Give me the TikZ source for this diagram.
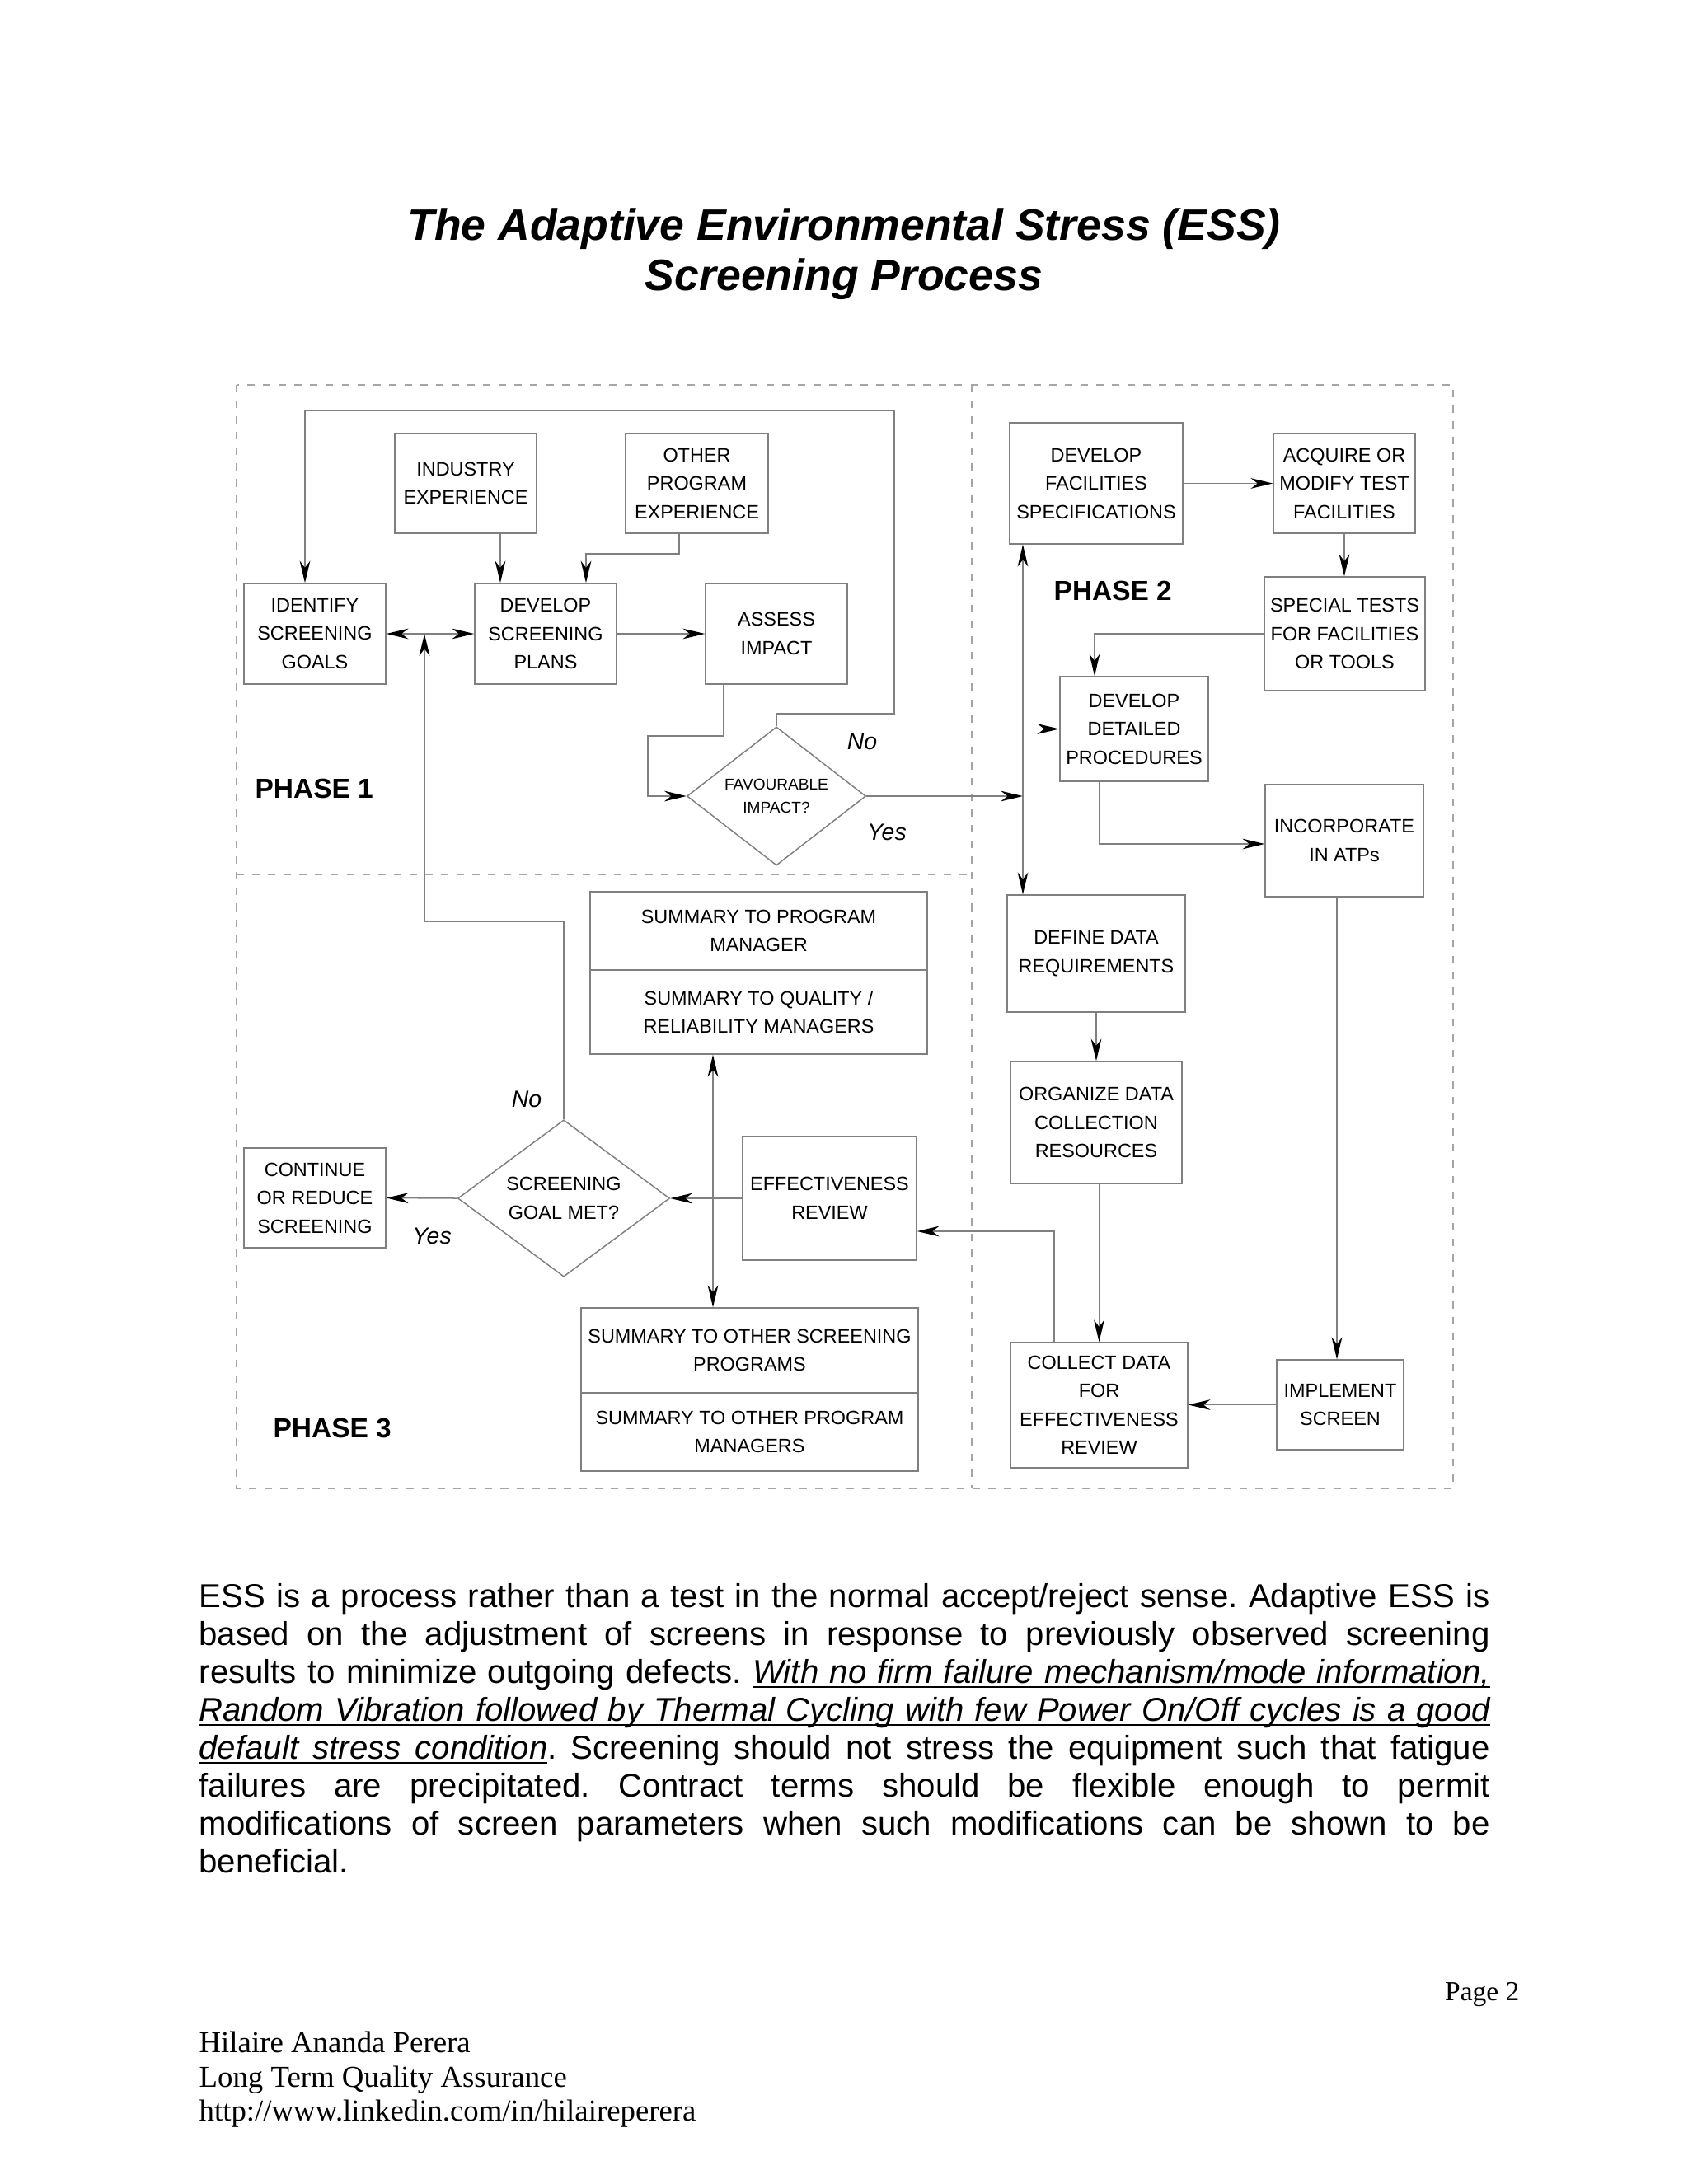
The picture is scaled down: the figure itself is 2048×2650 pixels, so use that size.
\documentclass[tikz,border=0pt]{standalone}
\usepackage{fontspec}
\setmainfont{Liberation Sans}
\newfontfamily\serifft{Liberation Serif}
\usetikzlibrary{arrows.meta,shapes.geometric}
\newdimen\pxu \pxu=0.298828pt
\definecolor{linegray}{RGB}{128,128,128}
\definecolor{framegray}{RGB}{165,165,165}
\newcommand\dgmfont{\fontsize{7pt}{10.3pt}\selectfont}
% home-made stretchable underline
\newcommand\ulw[1]{\setbox0\hbox{#1}\rlap{\vrule height -1.3pt depth 1.9pt width \wd0}\box0}
\def\ulloop#1 #2\ulend{\ulw{#1}\ifx\relax#2\relax\else\leaders\hrule height -1.3pt depth 1.9pt\hskip\fontdimen2\font plus\fontdimen3\font minus\fontdimen4\font\ulloop#2\ulend\fi}
\frenchspacing
\begin{document}
\begin{tikzpicture}[x=0.298828pt,y=-0.298828pt,
  >={Stealth[length=8pt,width=3.8pt,inset=2.5pt,color=black]},
  conn/.style={draw=linegray,line width=0.45pt},
  box/.style={draw=linegray,line width=0.45pt,inner sep=0pt,align=center,font=\dgmfont},
  decision/.style={diamond,draw=linegray,line width=0.45pt,inner sep=0pt,align=center,font=\dgmfont},
  lbl/.style={font=\fontsize{8.5pt}{10pt}\selectfont\itshape,inner sep=0pt},
  phase/.style={font=\fontsize{10pt}{12pt}\selectfont\bfseries,anchor=west,inner sep=0pt},
  frame/.style={draw=framegray,line width=0.4pt,dash pattern=on 2.7pt off 3pt}]
\useasboundingbox (0,0) rectangle (2048,2650);

% title
\node[font=\fontsize{16pt}{18pt}\selectfont\bfseries\itshape,anchor=base,inner sep=0pt] (t1) at (1024,291) {The Adaptive Environmental Stress (ESS)};
\node[font=\fontsize{16pt}{18pt}\selectfont\bfseries\itshape,anchor=base,inner sep=0pt] (t2) at (1024,352) {Screening Process};

% frame
\draw[frame] (287,467) rectangle (1763,1806);
\draw[frame] (1179,467) -- (1179,1806);
\draw[frame] (287,1061) -- (1179,1061);

% phase 1
\node[box,minimum width=172\pxu,minimum height=122\pxu] (ident) at (382,769) {IDENTIFY\\SCREENING\\GOALS};
\node[box,minimum width=172\pxu,minimum height=121\pxu] (indus) at (565,586.5) {INDUSTRY\\EXPERIENCE};
\node[box,minimum width=173\pxu,minimum height=121\pxu] (other) at (845.5,586.5) {OTHER\\PROGRAM\\EXPERIENCE};
\node[box,minimum width=172\pxu,minimum height=122\pxu] (devplan) at (662,769) {DEVELOP\\SCREENING\\PLANS};
\node[box,minimum width=172\pxu,minimum height=122\pxu] (assess) at (942,769) {ASSESS\\IMPACT};
\node[decision,minimum width=217\pxu,minimum height=152\pxu,font=\fontsize{5.7pt}{8.6pt}\selectfont] (fav) at (942,966) {FAVOURABLE\\IMPACT?};
\node[phase] (ph1) at (309,957) {PHASE 1};
\node[lbl] (no1) at (1046,900) {No};
\node[lbl] (yes1) at (1076,1010) {Yes};

% phase 2
\node[box,minimum width=210\pxu,minimum height=147\pxu] (facil) at (1330,586.5) {DEVELOP\\FACILITIES\\SPECIFICATIONS};
\node[box,minimum width=172\pxu,minimum height=121\pxu] (acquire) at (1631,586.5) {ACQUIRE OR\\MODIFY TEST\\FACILITIES};
\node[box,minimum width=195\pxu,minimum height=138\pxu] (special) at (1631.5,769) {SPECIAL TESTS\\FOR FACILITIES\\OR TOOLS};
\node[box,minimum width=180\pxu,minimum height=127\pxu] (detailed) at (1376,884.5) {DEVELOP\\DETAILED\\PROCEDURES};
\node[box,minimum width=192\pxu,minimum height=136\pxu] (incorp) at (1631,1020) {INCORPORATE\\IN ATPs};
\node[box,minimum width=216\pxu,minimum height=142\pxu] (define) at (1330,1157) {DEFINE DATA\\REQUIREMENTS};
\node[box,minimum width=208\pxu,minimum height=148\pxu] (organize) at (1330,1362) {ORGANIZE DATA\\COLLECTION\\RESOURCES};
\node[box,minimum width=215\pxu,minimum height=152\pxu] (collect) at (1333.5,1705) {COLLECT DATA\\FOR\\EFFECTIVENESS\\REVIEW};
\node[box,minimum width=154\pxu,minimum height=109\pxu] (implement) at (1626,1704.5) {IMPLEMENT\\SCREEN};
\node[phase] (ph2) at (1278,717) {PHASE 2};

% phase 3
\node[box,minimum width=409\pxu,minimum height=95\pxu] (sumA) at (920.5,1129.5) {SUMMARY TO PROGRAM\\MANAGER};
\node[box,minimum width=409\pxu,minimum height=102\pxu] (sumB) at (920.5,1228) {SUMMARY TO QUALITY /\\RELIABILITY MANAGERS};
\node[decision,minimum width=257\pxu,minimum height=166\pxu] (goal) at (684,1454) {SCREENING\\GOAL MET?};
\node[box,minimum width=172\pxu,minimum height=121\pxu] (cont) at (382,1453.5) {CONTINUE\\OR REDUCE\\SCREENING};
\node[box,minimum width=211\pxu,minimum height=150\pxu] (effect) at (1006.5,1454) {EFFECTIVENESS\\REVIEW};
\node[box,minimum width=409\pxu,minimum height=103\pxu] (sumC) at (909.5,1638.5) {SUMMARY TO OTHER SCREENING\\PROGRAMS};
\node[box,minimum width=409\pxu,minimum height=95\pxu] (sumD) at (909.5,1737.5) {SUMMARY TO OTHER PROGRAM\\MANAGERS};
\node[phase] (ph3) at (331,1733) {PHASE 3};
\node[lbl] (no2) at (639,1334) {No};
\node[lbl] (yes2) at (524,1500) {Yes};

% helper coordinates
\coordinate (xI) at (607,0);
\coordinate (oA) at (824,672);
\coordinate (oB) at (711,672);
\coordinate (aA) at (878,893);
\coordinate (aB) at (786,893);
\coordinate (nA) at (1085,866);
\coordinate (nB) at (370,498);
\coordinate (vx) at (1241,966);
\coordinate (sA) at (1328,0);
\coordinate (dA) at (1334,1024);
\coordinate (iB) at (1622,0);
\coordinate (cA) at (1279,1494);
\coordinate (vz) at (865,1454);
\coordinate (gB) at (515,1118);

% phase 1 connectors
\draw[conn,->] (indus.south -| xI) -- (devplan.north -| xI);
\draw[conn,->] (other.south -| oA) -- (oA) -- (oB) -- (devplan.north -| oB);
\draw[conn,<->] (ident.east) -- (devplan.west);
\draw[conn,->] (devplan.east) -- (assess.west);
\draw[conn,->] (assess.south -| aA) -- (aA) -- (aB) |- (fav.west);
\draw[conn,->] (fav.north) -- (fav.north |- nA) -- (nA) -- (nA |- nB) -- (nB) -- (ident.north -| nB);
\draw[conn,->] (fav.east) -- (fav.east -| vx);

% phase 2 connectors
\draw[conn,<->] (facil.south -| vx) -- (define.north -| vx);
\draw[conn,->] (vx |- detailed.west) -- (detailed.west);
\draw[conn,->] (facil.east) -- (acquire.west);
\draw[conn,->] (acquire.south) -- (acquire.south |- special.north);
\draw[conn,->] (special.west) -| (detailed.north -| sA);
\draw[conn,->] (detailed.south -| dA) -- (dA) -- (incorp.west |- dA);
\draw[conn,->] (incorp.south -| iB) -- (implement.north -| iB);
\draw[conn,->] (define.south) -- (organize.north);
\draw[conn,->] (organize.south -| collect.north) -- (collect.north);
\draw[conn,->] (implement.west) -- (collect.east |- implement.west);
\draw[conn,->] (collect.north -| cA) -- (cA) -- (effect.east |- cA);

% phase 3 connectors
\draw[conn,->] (effect.west) -- (goal.east);
\draw[conn,->] (goal.west) -- (cont.east);
\draw[conn,<->] (sumB.south -| vz) -- (sumC.north -| vz);
\draw[conn,->] (goal.north) -- (goal.north |- gB) -- (gB) -- (gB |- ident.east);

% paragraph
\node[anchor=base west,text width=468pt,align=justify,inner sep=0pt,font=\fontsize{12pt}{13.75pt}\selectfont] (para) at (241,1950) {\hyphenpenalty=10000\frenchspacing
ESS is a process rather than a test in the normal accept/reject sense. Adaptive ESS is\linebreak
based on the adjustment of screens in response to previously observed screening\linebreak
results to minimize outgoing defects. {\itshape\ulloop With no firm failure mechanism/mode information, \ulend}\linebreak
{\itshape\ulloop Random Vibration followed by Thermal Cycling with few Power On/Off cycles is a good \ulend}\linebreak
{\itshape\ulloop default stress condition \ulend}. Screening should not stress the equipment such that fatigue\linebreak
failures are precipitated. Contract terms should be flexible enough to permit\linebreak
modifications of screen parameters when such modifications can be shown to be\linebreak
beneficial.};

% footer
\node[anchor=base east,inner sep=0pt,font=\serifft\fontsize{10pt}{12pt}\selectfont] (page) at (1844,2427) {Page 2};
\node[anchor=base west,inner sep=0pt,font=\serifft\fontsize{11pt}{12.4pt}\selectfont] (au1) at (241,2490) {Hilaire Ananda Perera};
\node[anchor=base west,inner sep=0pt,font=\serifft\fontsize{11pt}{12.4pt}\selectfont] (au2) at (241,2532) {Long Term Quality Assurance};
\node[anchor=base west,inner sep=0pt,font=\serifft\fontsize{11pt}{12.4pt}\selectfont] (au3) at (241,2573) {http://www.linkedin.com/in/hilaireperera};
\end{tikzpicture}
\end{document}
